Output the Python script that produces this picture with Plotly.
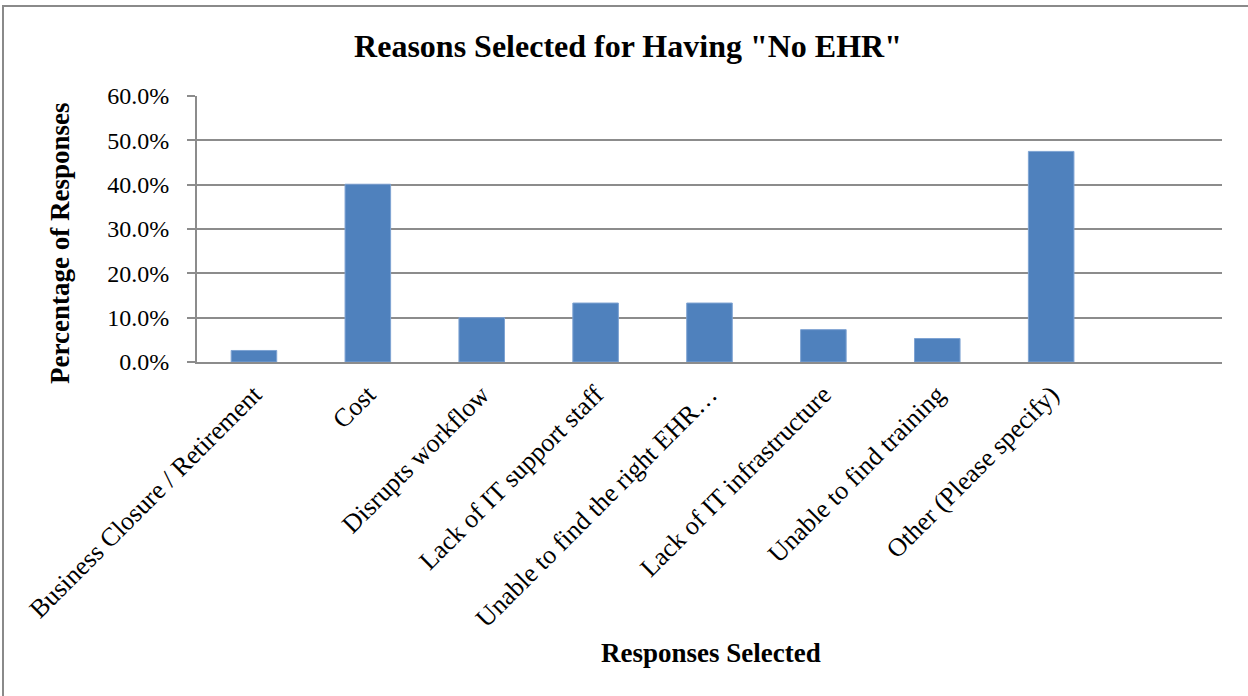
import plotly.graph_objects as go

# Survey responses: reasons given for not having an EHR
categories = [
    "Business Closure / Retirement",
    "Cost",
    "Disrupts workflow",
    "Lack of IT support staff",
    "Unable to find the right EHR…",
    "Lack of IT infrastructure",
    "Unable to find training",
    "Other (Please specify)",
]
percent_responses = [2.6, 40.1, 10.0, 13.3, 13.3, 7.3, 5.3, 47.5]

y_tick_values = [0, 10, 20, 30, 40, 50, 60]
y_tick_labels = ["0.0%", "10.0%", "20.0%", "30.0%", "40.0%", "50.0%", "60.0%"]

W, H = 1248, 696
M_L, M_R, M_T, M_B = 197, 26, 96, 334
PW = W - M_L - M_R
PH = H - M_T - M_B

SERIF = "Liberation Serif, Times New Roman, serif"
GRID = "#8c8c8c"

fig = go.Figure(
    go.Bar(
        x=categories,
        y=percent_responses,
        marker=dict(color="#4F81BD", line=dict(color="#7ea3d3", width=1)),
        width=0.4,
        hoverinfo="x+y",
    )
)

fig.update_layout(
    width=W,
    height=H,
    margin=dict(l=M_L, r=M_R, t=M_T, b=M_B, autoexpand=False),
    paper_bgcolor="white",
    plot_bgcolor="white",
    showlegend=False,
    font=dict(family=SERIF, color="black"),
    title=dict(
        text='<b>Reasons Selected for Having "No EHR"</b>',
        font=dict(family=SERIF, size=32, color="black"),
        x=628 / W,
        xanchor="center",
        y=1 - 46 / H,
        yanchor="middle",
    ),
    xaxis=dict(
        range=[-0.5, 8.5],
        showline=True,
        linecolor=GRID,
        linewidth=2,
        showgrid=False,
        ticks="",
        tickangle=-45,
        tickfont=dict(family=SERIF, size=26, color="black"),
        ticklabelstandoff=5,
        automargin=False,
        fixedrange=True,
    ),
    yaxis=dict(
        range=[0, 60],
        tickvals=y_tick_values,
        ticktext=y_tick_labels,
        showgrid=True,
        gridcolor=GRID,
        gridwidth=2,
        showline=True,
        linecolor=GRID,
        linewidth=2,
        zeroline=False,
        ticks="outside",
        ticklen=8,
        tickcolor=GRID,
        tickwidth=2,
        ticklabelstandoff=13,
        tickfont=dict(family=SERIF, size=24, color="black"),
        automargin=False,
        fixedrange=True,
    ),
)

# Axis titles
fig.add_annotation(
    text="<b>Percentage of Responses</b>",
    xref="paper", yref="paper",
    x=(60 - M_L) / PW, y=(H - M_B - 244) / PH,
    xanchor="center", yanchor="middle",
    textangle=-90, showarrow=False,
    font=dict(family=SERIF, size=27, color="black"),
)
fig.add_annotation(
    text="<b>Responses Selected</b>",
    xref="paper", yref="paper",
    x=(711 - M_L) / PW, y=(H - M_B - 653) / PH,
    xanchor="center", yanchor="middle",
    showarrow=False,
    font=dict(family=SERIF, size=27, color="black"),
)

# Chart-area frame
fig.add_shape(
    type="rect",
    xref="paper", yref="paper",
    x0=(3 - M_L) / PW, x1=(W + 10 - M_L) / PW,
    y0=(H - M_B - (H + 10)) / PH, y1=(H - M_B - 6) / PH,
    line=dict(color="#8a8a8a", width=2),
    fillcolor="rgba(0,0,0,0)",
    layer="below",
)

fig.write_html("out.html", config={"displayModeBar": False})
